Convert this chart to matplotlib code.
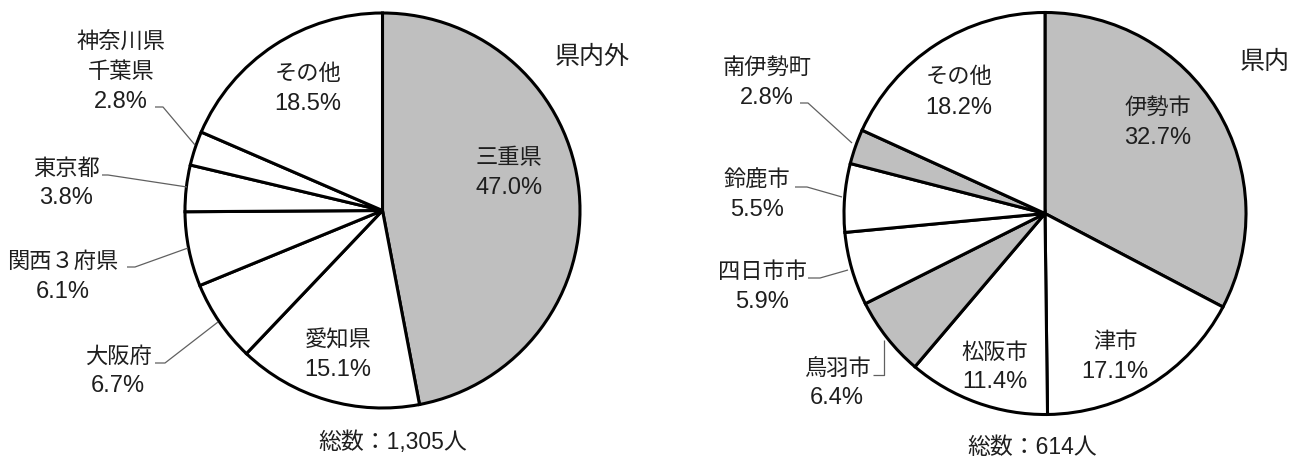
import matplotlib
matplotlib.use("Agg")
import matplotlib.pyplot as plt

W, H = 1298, 461

# 県内外 (all respondents)
out_labels = ["三重県", "愛知県", "大阪府", "関西３府県", "東京都", "神奈川県\n千葉県", "その他"]
out_values = [47.0, 15.1, 6.7, 6.1, 3.8, 2.8, 18.5]
out_gray = [True, False, False, False, False, False, False]
out_total = "1,305"

# 県内 (within the prefecture)
in_labels = ["伊勢市", "津市", "松阪市", "鳥羽市", "四日市市", "鈴鹿市", "南伊勢町", "その他"]
in_values = [32.7, 17.1, 11.4, 6.4, 5.9, 5.5, 2.8, 18.2]
in_gray = [True, False, False, True, False, False, True, False]
in_total = "614"

CJK = ["Noto Sans CJK JP", "DejaVu Sans"]
NUM = ["Liberation Sans", "Noto Sans CJK JP"]
TXT = "#1e1e1e"
GRAY = "#BFBFBF"
LEAD = "#606060"

fig = plt.figure(figsize=(W / 100, H / 100), dpi=100)
ax = fig.add_axes([0, 0, 1, 1])


def Y(py):
    return H - py


def draw_pie(values, gray, cx, cy, r):
    colors = [GRAY if g else "white" for g in gray]
    ax.pie(values, colors=colors, startangle=90, counterclock=False,
           center=(cx, Y(cy)), radius=r,
           wedgeprops=dict(edgecolor="black", linewidth=2.2))


def label(x, y, names, value, step=29.5):
    for i, s in enumerate(names):
        ax.text(x, Y(y + i * step), s, ha="center", va="center",
                fontsize=16, family=CJK, color=TXT)
    ax.text(x, Y(y + len(names) * step + 1), f"{value:.1f}%", ha="center", va="center",
            fontsize=17, family=NUM, color=TXT)


def leader(pts):
    xs = [p[0] for p in pts]
    ys = [Y(p[1]) for p in pts]
    ax.plot(xs, ys, color=LEAD, lw=0.9, solid_capstyle="butt")


draw_pie(out_values, out_gray, 382.5, 210.5, 197.5)
draw_pie(in_values, in_gray, 1045, 213.5, 201)

# left chart labels
out_pos = [(509, 157), (338, 340), (118, 356), (63, 261), (66, 168), (121, 42), (308, 74)]
for (x, y), name, v in zip(out_pos, out_labels, out_values):
    label(x, y, name.split("\n"), v)

leader([(155, 107), (163, 107), (195, 145)])
leader([(102, 175), (108, 175), (187, 187)])
leader([(127, 267), (135, 267), (188, 248)])
leader([(155, 363), (165, 363), (218, 322)])

# right chart labels
in_pos = [(1158, 107), (1115, 342), (995, 352), (837, 368), (762, 272), (757, 180), (767, 67), (959, 77)]
for (x, y), name, v in zip(in_pos, in_labels, in_values):
    label(x, y, [name], v, step=29.5)

leader([(800, 103), (808, 103), (852, 143)])
leader([(795, 187), (807, 187), (842, 197)])
leader([(808, 278), (820, 278), (848, 270)])
leader([(873, 375), (884, 375), (884, 340)])

ax.text(592, Y(57), "県内外", ha="center", va="center", fontsize=18, family=CJK, color=TXT)
ax.text(1265, Y(62), "県内", ha="center", va="center", fontsize=18, family=CJK, color=TXT)

ax.text(393, Y(443), f"総数：{out_total}人", ha="center", va="center", fontsize=16.5, family=NUM, color=TXT)
ax.text(1032, Y(447), f"総数：{in_total}人", ha="center", va="center", fontsize=16.5, family=NUM, color=TXT)

ax.set_xlim(0, W)
ax.set_ylim(0, H)
ax.set_aspect("equal")
ax.axis("off")

fig.savefig("out.png", dpi=100, facecolor="white")
